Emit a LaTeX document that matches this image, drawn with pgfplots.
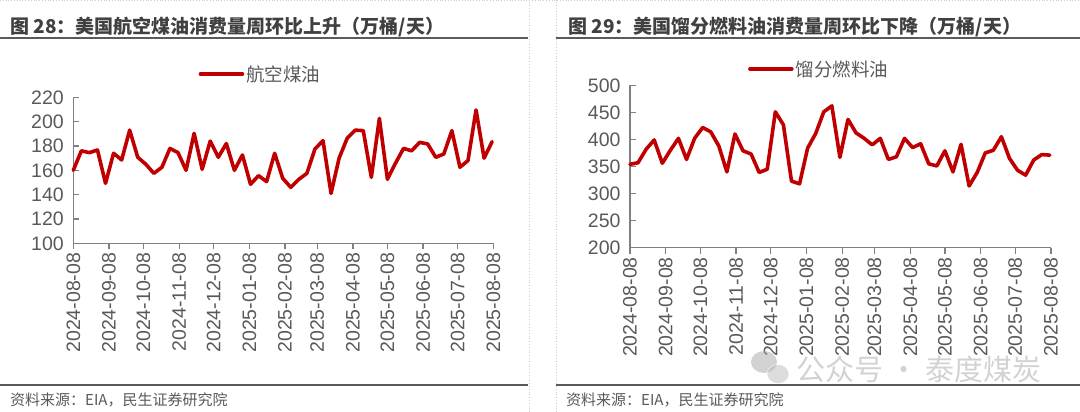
\documentclass[border=0pt]{standalone}
\usepackage{fontspec}
\setmainfont{Noto Sans CJK SC}
\newfontfamily\arialf{Liberation Sans}
\usepackage{pgfplots}
\pgfplotsset{compat=1.18}

\definecolor{linered}{HTML}{C00000}
\definecolor{txtgray}{HTML}{595959}
\definecolor{titlegray}{HTML}{404040}
\definecolor{axisgray}{HTML}{808080}
\definecolor{rulegray}{HTML}{5A5A5A}

\pgfplotstableread{
x y
0 160
7 176
14 174.5
21 176.7
28 149.3
35 174
42 168.5
49 193
56 170.7
63 165
70 157.5
77 162.5
84 178
91 174.5
98 160
105 190.4
112 160.8
119 184
126 170.7
133 182
140 160
147 172.6
154 148.5
161 155.6
168 150.7
175 174
182 153.4
189 146
196 152.6
203 157.5
210 177.5
217 184.4
224 141
231 170
238 186.3
245 193
252 192.6
259 154.2
266 202.7
273 152.6
280 165.8
287 178
294 176
301 183
308 181.6
315 170.7
322 173.4
329 192.6
336 162.5
343 168
350 209.6
357 170
364 183.6
}\jetfuel

\pgfplotstableread{
x y
0 354
7 357
14 382
21 399
28 356
35 380
42 402
49 363
56 402
63 422
70 414
77 388
84 340
91 410
98 379
105 373
112 339
119 345
126 451
133 427
140 323
147 318
154 384
161 411
168 451
175 462
182 367
189 437
196 412
203 402
210 390
217 402
224 363
231 368
238 402
245 385
252 392
259 355
266 351
273 379
280 340
287 391
294 314
301 339
308 375
315 380
322 405
329 365
336 343
343 334
350 362
357 372
364 371
}\distillate

\pgfplotsset{
  weekly/.style={
    scale only axis,
    clip=false,
    axis x line=bottom,
    axis y line=left,
    axis line style={axisgray, line width=1.3pt, -},
    xmin=0, xmax=365,
    xtick={0,31,61,92,122,153,184,212,243,273,304,334,365},
    xticklabels={2024-08-08,2024-09-08,2024-10-08,2024-11-08,2024-12-08,2025-01-08,2025-02-08,2025-03-08,2025-04-08,2025-05-08,2025-06-08,2025-07-08,2025-08-08},
    x tick label style={rotate=90, anchor=east, font=\arialf\fontsize{19.5}{20}\selectfont, text=txtgray},
    y tick label style={font=\arialf\fontsize{19.5}{20}\selectfont, text=txtgray},
    tick style={axisgray, line width=1.3pt},
    major tick length=6pt,
    tick align=outside,
    ytick style={xshift=6pt},
    /pgf/number format/assume math mode=true,
    legend style={draw=none, fill=none, inner sep=0pt, font=\fontsize{18.5}{19}\selectfont, text=txtgray},
    legend cell align=left,
    legend image code/.code={\draw[#1] (0pt,0pt) -- (42pt,0pt);},
  },
  redline/.style={linered, line width=3.6pt, line join=round, line cap=round},
}

\begin{document}
\begin{tikzpicture}
\useasboundingbox (0pt,0pt) rectangle (1080pt,412pt);

% left panel
\begin{axis}[weekly,
  at={(73.3pt,168.7pt)}, anchor=south west,
  width=420pt, height=146pt,
  ymin=100, ymax=220, ytick={100,120,...,220},
  legend style={at={(0.298,1.16)}, anchor=west},
]
\addplot[redline] table[x=x,y=y] {\jetfuel};
\addlegendentry{航空煤油}
\end{axis}

% right panel
\begin{axis}[weekly,
  at={(630pt,164.3pt)}, anchor=south west,
  width=421pt, height=162.4pt,
  ymin=200, ymax=500, ytick={200,250,...,500},
  legend style={at={(0.280,1.10)}, anchor=west},
]
\addplot[redline] table[x=x,y=y] {\distillate};
\addlegendentry{馏分燃料油}
\end{axis}

% titles and rules
\node[anchor=base west, inner sep=0pt, text=titlegray, font=\fontsize{19}{22}\selectfont\bfseries] at (10pt,378pt) {图 28：美国航空煤油消费量周环比上升（万桶/天）};
\node[anchor=base west, inner sep=0pt, text=titlegray, font=\fontsize{19}{22}\selectfont\bfseries] at (568pt,378pt) {图 29：美国馏分燃料油消费量周环比下降（万桶/天）};
\draw[rulegray, line width=1.6pt] (0pt,374pt) -- (528pt,374pt);
\draw[rulegray, line width=1.6pt] (556pt,374pt) -- (1080pt,374pt);
\draw[rulegray, line width=1.6pt] (0pt,27pt) -- (528pt,27pt);
\draw[rulegray, line width=1.6pt] (556pt,27pt) -- (1080pt,27pt);
\draw[gray!40, dotted, line width=0.8pt] (529pt,0pt) -- (529pt,412pt);
\draw[gray!40, dotted, line width=0.8pt] (556pt,0pt) -- (556pt,412pt);
\draw[gray!40, dotted, line width=0.8pt] (0pt,411.5pt) -- (1080pt,411.5pt);

% sources
\node[anchor=base west, inner sep=0pt, text=txtgray, font=\fontsize{15}{17}\selectfont] at (10pt,6pt) {资料来源：EIA，民生证券研究院};
\node[anchor=base west, inner sep=0pt, text=txtgray, font=\fontsize{15}{17}\selectfont] at (566pt,6pt) {资料来源：EIA，民生证券研究院};

% watermark
\begin{scope}[opacity=0.5]
\fill[gray!70] (764pt,50pt) ellipse (13pt and 11pt);
\fill[gray!55, draw=white, line width=1pt] (778pt,38pt) ellipse (11pt and 9.5pt);
\node[anchor=west, inner sep=0pt, text=gray!70, font=\fontsize{29}{31}\selectfont] at (796pt,43pt) {公众号 · 泰度煤炭};
\end{scope}
\end{tikzpicture}
\end{document}
